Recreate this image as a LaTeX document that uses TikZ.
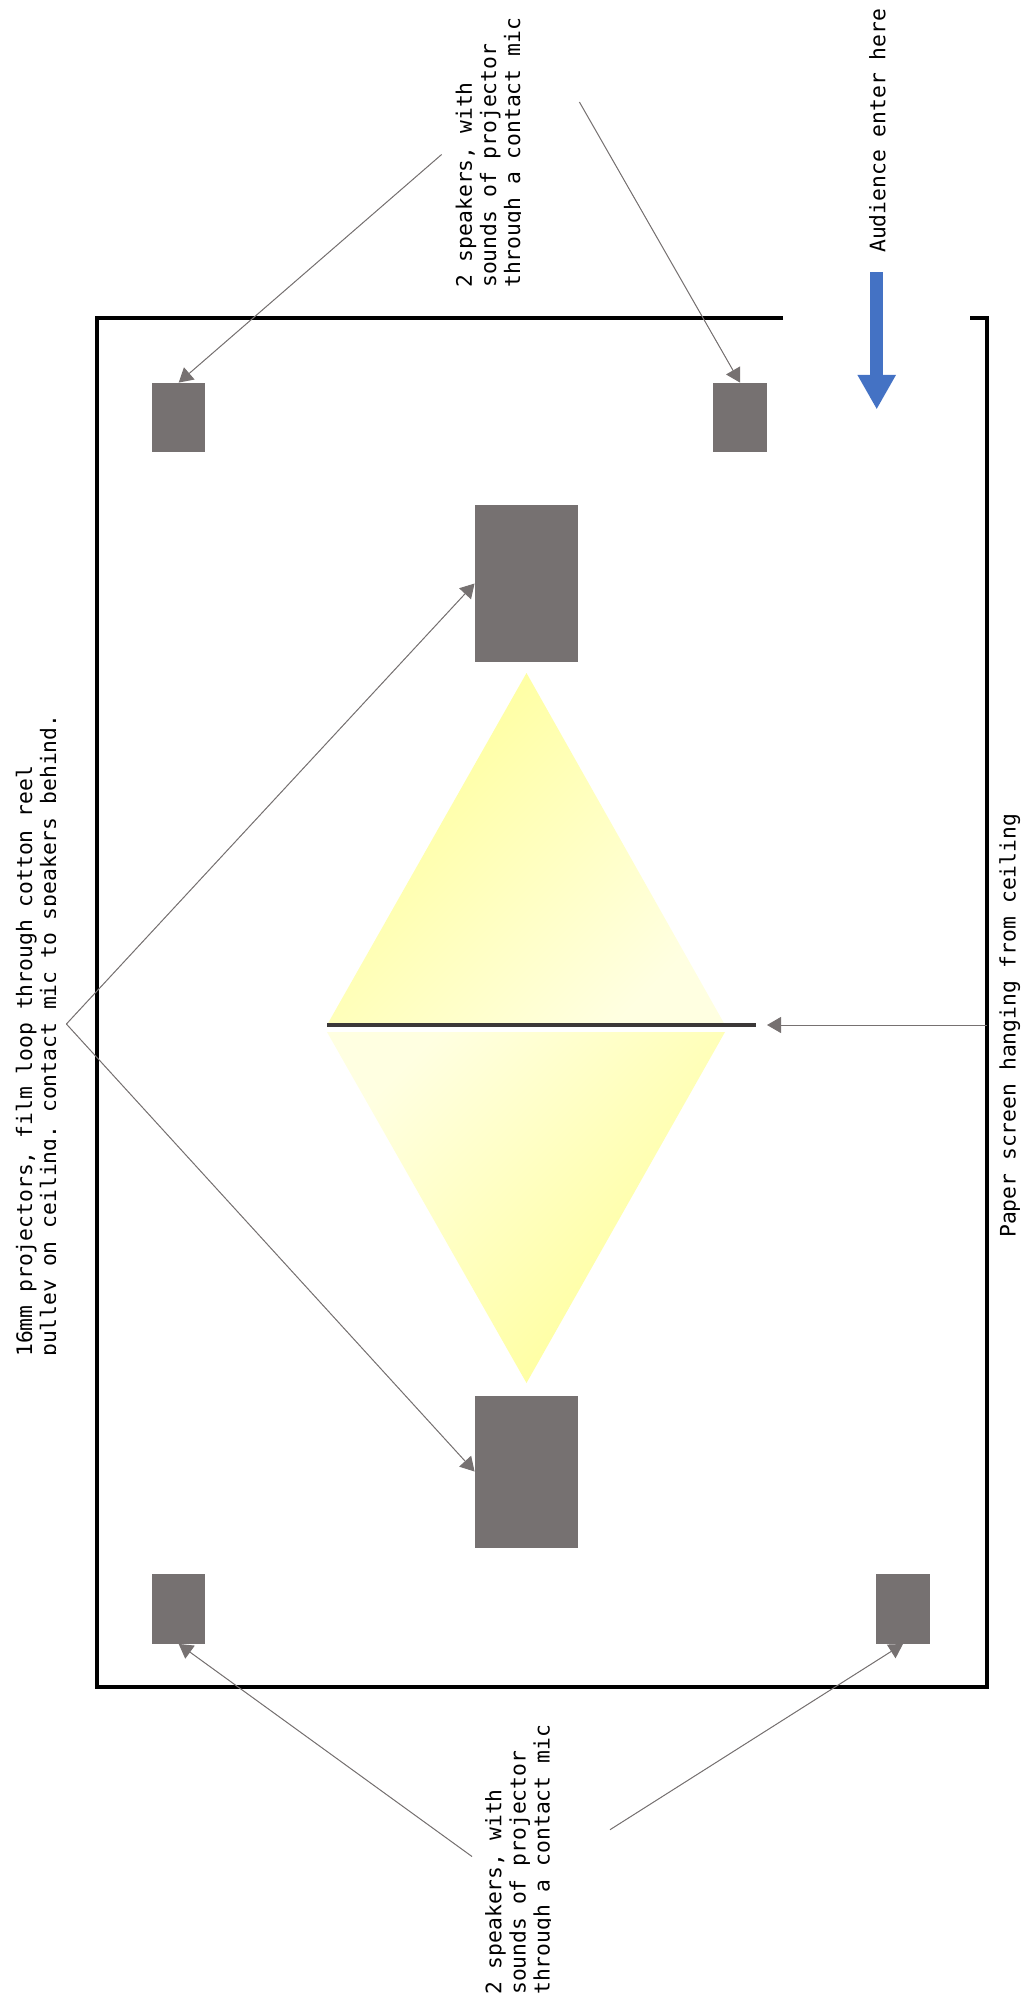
\documentclass[tikz,border=0pt]{standalone}
\usepackage{fontspec}
\setmonofont{DejaVu Sans Mono}
\usepackage{xcolor}
\usetikzlibrary{arrows.meta, positioning, calc}
\definecolor{speakergray}{RGB}{118,113,113}
\definecolor{screendark}{RGB}{59,56,56}
\definecolor{doorblue}{RGB}{68,114,196}
\definecolor{lampyellow}{RGB}{255,255,153}
\definecolor{lamppale}{RGB}{255,255,225}

\begin{document}
\begin{tikzpicture}[x=0.75pt, y=-0.75pt, >={Triangle[length=10.5pt,width=12pt]}]
  \tikzstyle{speaker} = [rectangle, fill=speakergray, minimum width=40pt, minimum height=52pt, inner sep=0pt]
  \tikzstyle{projector} = [rectangle, fill=speakergray, minimum width=77.5pt, inner sep=0pt]
  \tikzstyle{note} = [rotate=90, anchor=north west, inner sep=0pt, align=left, font=\fontsize{16}{18.1}\selectfont\ttfamily]
  \tikzstyle{pointer} = [->, draw=speakergray, fill=speakergray, line width=0.75pt]

  \useasboundingbox (0, 0) rectangle (1021, 2002);

  % Light from the projectors
  \shade[bottom color=lamppale, top color=lampyellow, shading angle=45] (526.5, 673) -- (327, 1025) -- (725, 1025) -- cycle;
  \shade[top color=lamppale, bottom color=lampyellow, shading angle=45] (526.5, 1383) -- (327, 1032) -- (725, 1032) -- cycle;

  % Room walls, open at the entrance
  \draw[line width=3pt, line cap=butt] (783, 318) -- (97, 318) -- (97, 1687) -- (986.5, 1687) -- (986.5, 318) -- (970, 318);

  % Speakers
  \node [speaker] (speakerTL) at (178.7, 417.5) {};
  \node [speaker] (speakerTR) at (740, 417.5) {};
  \node [speaker] (speakerBL) at (178.7, 1609) {};
  \node [speaker] (speakerBR) at (903, 1609) {};

  % Projectors
  \node [projector, minimum height=118pt] (projectorT) at (526.5, 583.5) {};
  \node [projector, minimum height=114pt] (projectorB) at (526.5, 1471.5) {};

  % Paper screen
  \coordinate (screenL) at (327, 1025);
  \coordinate (screenR) at (755.5, 1025);
  \draw[line width=3.25pt, screendark] (screenL) -- (screenR);

  % Labels
  \begin{scope}
    \clip (440, 0) rectangle (520, 300);
    \node [note] (noteT) at (455.5, 288) {2 speakers, with\\sounds of projector\\through a contact mic};
  \end{scope}
  \begin{scope}
    \clip (470, 1700) rectangle (550, 2002);
    \node [note] (noteB) at (485, 1995) {2 speakers, with\\sounds of projector\\through a contact mic};
  \end{scope}
  \begin{scope}
    \clip (0, 700) rectangle (55.5, 1360);
    \node [note] (noteL) at (15.5, 1357) {16mm projectors, film loop through cotton reel\\pulley on ceiling. contact mic to speakers behind.};
  \end{scope}
  \node [note] (noteScreen) at (999, 1238) {Paper screen hanging from ceiling};
  \node [note] (noteDoor) at (869, 253) {Audience enter here};

  % Free ends of the pointers
  \coordinate (fromTL) at (441.6, 154.5);
  \coordinate (fromTR) at (579.4, 102);
  \coordinate (fromBL) at (472, 1856.5);
  \coordinate (fromBR) at (610, 1829.7);
  \coordinate (fromL) at (66.4, 1024);
  \coordinate (fromWall) at (986.5, 1025);
  \coordinate (toScreen) at (767, 1025);

  % Speaker pointers
  \draw[pointer] (fromTL) -- (speakerTL.north);
  \draw[pointer] (fromTR) -- (speakerTR.north);
  \draw[pointer] (fromBL) -- (speakerBL.south);
  \draw[pointer] (fromBR) -- (speakerBR.south);

  % Projector pointers
  \draw[pointer] (fromL) -- (projectorT.west);
  \draw[pointer] (fromL) -- (projectorB.west);

  % Screen pointer
  \draw[pointer] (fromWall) -- (toScreen);

  % Entrance arrow
  \coordinate (doorA) at (876.7, 272);
  \coordinate (doorB) at (876.7, 409.5);
  \draw[-{Triangle[length=26pt,width=27pt]}, line width=9.75pt, doorblue] (doorA) -- (doorB);
\end{tikzpicture}
\end{document}
